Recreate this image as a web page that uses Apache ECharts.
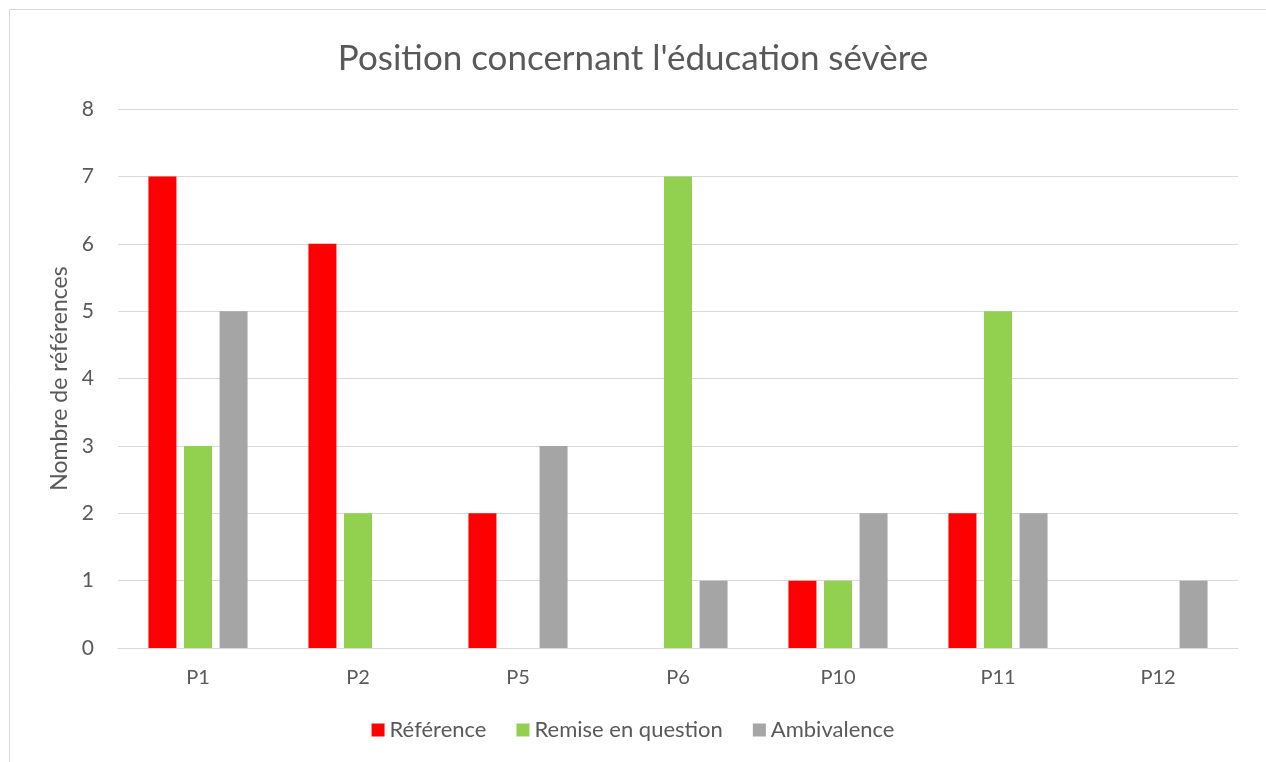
<!DOCTYPE html>
<html>
<head>
<meta charset="utf-8">
<script src="https://cdn.jsdelivr.net/npm/echarts@6/dist/echarts.min.js"></script>
<style>
  html, body { margin: 0; padding: 0; background: #fff; }
  #chart { width: 1266px; height: 762px; }
</style>
</head>
<body>
<div id="chart"></div>
<script>
// Data
var categories = ['P1', 'P2', 'P5', 'P6', 'P10', 'P11', 'P12'];
var reference = [7, 6, 2, 0, 1, 2, 0];
var remise = [3, 2, 0, 7, 1, 5, 0];
var ambivalence = [5, 0, 3, 1, 2, 2, 1];
var yTicks = [0, 1, 2, 3, 4, 5, 6, 7, 8];

var font = 'Lato, "Open Sans", sans-serif';
var textColor = '#595959';

var chart = echarts.init(document.getElementById('chart'));

var option = {
    animation: false,
    textStyle: {fontFamily: font},
    graphic: [
        {
            type: 'rect',
            shape: {x: 9.5, y: 9.5, width: 1300, height: 800},
            style: {fill: 'none', stroke: '#d9d9d9', lineWidth: 1},
            silent: true
        }
    ],
    title: {
        text: "Position concernant l'éducation sévère",
        left: 'center',
        top: 36,
        textStyle: {fontFamily: font, fontSize: 35, fontWeight: 'normal', color: textColor}
    },
    legend: {
        bottom: 16,
        left: 'center',
        itemWidth: 13,
        itemHeight: 13,
        itemGap: 30,
        icon: 'rect',
        textStyle: {fontFamily: font, fontSize: 22, color: textColor}
    },
    grid: {left: 118, right: 28, top: 109, bottom: 114},
    xAxis: {
        type: 'category',
        data: categories,
        axisLine: {lineStyle: {color: '#d9d9d9'}},
        axisTick: {show: false},
        axisLabel: {fontFamily: font, fontSize: 20, color: textColor, margin: 20}
    },
    yAxis: {
        type: 'value',
        min: yTicks[0],
        max: yTicks[yTicks.length - 1],
        interval: 1,
        name: 'Nombre de références',
        nameLocation: 'middle',
        nameGap: 45,
        nameTextStyle: {fontFamily: font, fontSize: 23, color: textColor},
        axisLine: {show: false},
        axisTick: {show: false},
        axisLabel: {fontFamily: font, fontSize: 21, color: textColor, margin: 24},
        splitLine: {lineStyle: {color: '#d9d9d9', width: 1}}
    },
    series: [
        {
            name: 'Référence',
            type: 'bar',
            data: reference,
            barWidth: 28,
            barGap: '27%',
            itemStyle: {color: '#ff0000'}
        },
        {
            name: 'Remise en question',
            type: 'bar',
            data: remise,
            barWidth: 28,
            barGap: '27%',
            itemStyle: {color: '#92d050'}
        },
        {
            name: 'Ambivalence',
            type: 'bar',
            data: ambivalence,
            barWidth: 28,
            barGap: '27%',
            itemStyle: {color: '#a5a5a5'}
        }
    ]
};

chart.setOption(option);
</script>
</body>
</html>
